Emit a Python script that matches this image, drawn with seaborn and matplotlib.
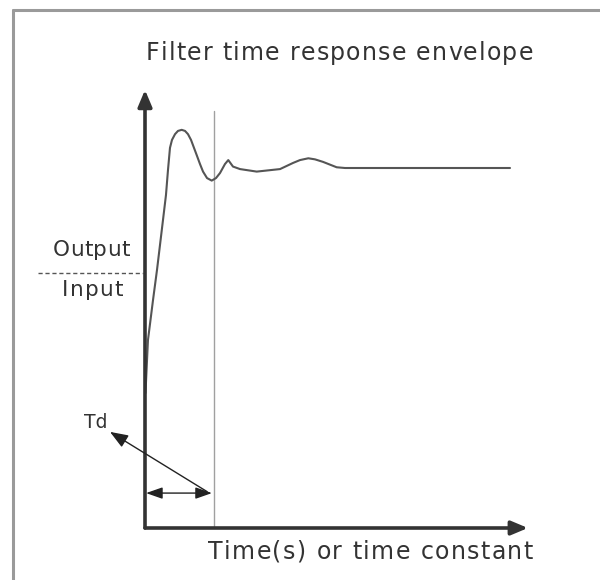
import matplotlib
matplotlib.use("Agg")
import matplotlib.pyplot as plt
from matplotlib.lines import Line2D
from matplotlib.font_manager import FontProperties, findfont, get_font
import pandas as pd
import seaborn as sns

# Step response envelope: time in units of the delay Td, response as output/input
time = [0.007, 0.043, 0.116, 0.174, 0.261, 0.304, 0.333, 0.362, 0.391, 0.435,
        0.478, 0.532, 0.580, 0.623, 0.667, 0.749, 0.797, 0.841, 0.899, 0.967,
        1.029, 1.087, 1.159, 1.207, 1.275, 1.377, 1.619, 1.957, 2.145, 2.246,
        2.367, 2.464, 2.580, 2.778, 2.899, 5.290]
response = [0.375, 0.522, 0.633, 0.717, 0.856, 0.925, 0.994, 1.056, 1.078, 1.094,
            1.103, 1.106, 1.103, 1.094, 1.078, 1.036, 1.011, 0.990, 0.972, 0.965,
            0.972, 0.986, 1.011, 1.022, 1.004, 0.997, 0.990, 0.997, 1.014, 1.022,
            1.027, 1.024, 1.017, 1.002, 1.000, 1.000]

td = 1.0                 # delay time marker
ratio_level = 0.709      # level of the Output/Input fraction bar
title = "Filter time response envelope"
xlabel = "Time(s) or time constant"
ylabel_top = "Output"
ylabel_bottom = "Input"
td_label = "Td"

df = pd.DataFrame({"time": time, "response": response})

sns.set_style("white")
plt.rcParams["font.family"] = ["DejaVu Sans"]

W, H = 600, 580
fig = plt.figure(figsize=(W / 100, H / 100), dpi=100)
fig.patch.set_facecolor("white")

# data axes filling the figure; origin of the drawn axes at pixel (145, 528)
sx, sy = 69.0, 360.0
ax = fig.add_axes([0, 0, 1, 1])
ax.set_xlim(-145 / sx, (W - 145) / sx)
ax.set_ylim(-(H - 528) / sy, 528 / sy)
ax.axis("off")


def fx(x):
    return x / W


def fy(y):
    return 1 - y / H


ink = "#333333"
renderer = fig.canvas.get_renderer()


def spaced_text(left, right, baseline, s, size, color=ink):
    """Write s between two pixel x positions with even letter spacing."""
    prop = FontProperties(family="DejaVu Sans", size=size)
    natural = renderer.get_text_width_height_descent(s, prop, ismath=False)[0]
    target = right - left
    gap = (target - natural) / (len(s) - 1) if len(s) > 1 else 0.0
    if gap <= 0.3:
        fig.text(fx((left + right) / 2), fy(baseline), s, ha="center",
                 va="baseline", fontproperties=prop, color=color)
        return
    font = get_font(findfont(prop))
    font.set_size(size, 100)
    adv = [font.load_char(ord(c)).linearHoriAdvance / 65536 for c in s]
    k = natural / sum(adv)
    x = left
    for c, a in zip(s, adv):
        fig.text(fx(x), fy(baseline), c, ha="left", va="baseline",
                 fontproperties=prop, color=color)
        x += a * k + gap


# outer frame (top and left edges)
fig.add_artist(Line2D([fx(13), 1], [fy(10), fy(10)], transform=fig.transFigure,
                      color="#9a9a9a", lw=2.2))
fig.add_artist(Line2D([fx(13), fx(13)], [fy(10), 0], transform=fig.transFigure,
                      color="#9a9a9a", lw=2.2))

# delay marker line
ax.plot([td, td], [0, 1.158], color="#a0a0a0", lw=1.0, zorder=1)

# response curve
sns.lineplot(data=df, x="time", y="response", ax=ax, color="#555555",
             lw=1.5, sort=False, zorder=3)
ax.lines[-1].set_solid_joinstyle("round")

# coordinate axes with arrow heads
ax.annotate("", xy=(0, 1.217), xytext=(0, 0),
            arrowprops=dict(arrowstyle="-|>,head_length=1.0,head_width=0.42",
                            color=ink, lw=2.6, shrinkA=0, shrinkB=0))
ax.annotate("", xy=(5.55, 0), xytext=(0, 0),
            arrowprops=dict(arrowstyle="-|>,head_length=1.0,head_width=0.42",
                            color=ink, lw=2.6, shrinkA=0, shrinkB=0))

# Td double arrow and pointer
ax.annotate("", xy=(0.015, 0.097), xytext=(0.97, 0.097),
            arrowprops=dict(arrowstyle="<|-|>,head_length=1.0,head_width=0.35",
                            color="#222222", lw=1.0, shrinkA=0, shrinkB=0))
ax.annotate("", xy=(-0.507, 0.267), xytext=(0.90, 0.101),
            arrowprops=dict(arrowstyle="-|>,head_length=1.1,head_width=0.42",
                            color="#222222", lw=1.0, shrinkA=0, shrinkB=0))

# Output / Input fraction bar
ax.plot([-1.55, -0.03], [ratio_level, ratio_level], color="#555555", lw=1.0,
        ls=(0, (3, 2)))

spaced_text(146, 533, 60, title, 17)
spaced_text(208, 533, 559, xlabel, 17)
spaced_text(53, 130, 256, ylabel_top, 15.5)
spaced_text(62, 123, 296.5, ylabel_bottom, 15.5)
spaced_text(85, 107, 428, td_label, 13.5)

fig.savefig("out.png", dpi=100, facecolor="white")
